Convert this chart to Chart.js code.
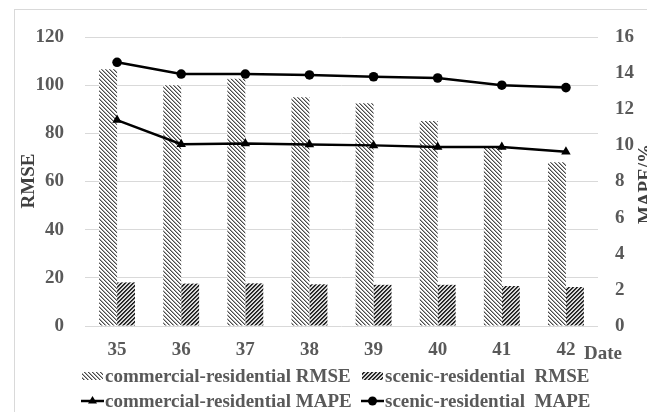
<!DOCTYPE html>
<html>
<head>
<meta charset="utf-8">
<script src="https://cdn.jsdelivr.net/npm/chart.js@4.4.1/dist/chart.umd.min.js"></script>
<style>
  html, body { margin: 0; padding: 0; background: #ffffff; }
  #wrap { position: relative; width: 647px; height: 412px; }
</style>
</head>
<body>
<div id="wrap"><canvas id="c" width="647" height="412"></canvas></div>
<script>
// Forecast day index on the x axis
const dates = ['35', '36', '37', '38', '39', '40', '41', '42'];

// RMSE (left axis)
const commercialRMSE = [106.6, 100.0, 102.7, 95.0, 92.5, 85.1, 74.4, 68.0];
const scenicRMSE     = [18.1, 17.6, 17.7, 17.3, 17.1, 17.1, 16.6, 16.2];

// MAPE in percent (right axis)
const commercialMAPE = [11.4, 10.06, 10.11, 10.05, 10.0, 9.91, 9.91, 9.65];
const scenicMAPE     = [14.6, 13.95, 13.95, 13.9, 13.8, 13.73, 13.33, 13.2];

const rmseTicks = [0, 20, 40, 60, 80, 100, 120];
const mapeTicks = [0, 2, 4, 6, 8, 10, 12, 14, 16];

const seriesNames = [
  'commercial-residential RMSE',
  'scenic-residential  RMSE',
  'commercial-residential MAPE',
  'scenic-residential  MAPE'
];

const FONT = '"Liberation Serif", "Times New Roman", serif';
const TICK_COLOR = '#595959';

// fine diagonal hatch tiles for the bars
function hatch(dir, dark, light, bg) {
  const c = document.createElement('canvas');
  c.width = 4; c.height = 4;
  const g = c.getContext('2d');
  g.fillStyle = bg; g.fillRect(0, 0, 4, 4);
  for (let y = 0; y < 4; y++) {
    const x = dir > 0 ? y : 3 - y;
    g.fillStyle = dark; g.fillRect(x, y, 1, 1);
    g.fillStyle = light; g.fillRect((x + 1) % 4, y, 1, 1);
  }
  return g.createPattern(c, 'repeat');
}
const ctx0 = document.getElementById('c').getContext('2d');
const patLight = hatch(1, '#4a4a4a', '#a8a8a8', '#ffffff');
const patDark  = hatch(-1, '#1e1e1e', '#3a3a3a', '#d8d8d8');

// frame, axis titles and two-row legend
const decor = {
  id: 'decor',
  beforeDraw(chart) {
    const g = chart.ctx;
    g.save();
    g.strokeStyle = '#d9d9d9';
    g.lineWidth = 1;
    g.strokeRect(14.5, 9.5, 700, 500);
    g.restore();
  },
  afterDraw(chart) {
    const g = chart.ctx;
    g.save();
    g.font = 'bold 19px ' + FONT;
    g.fillStyle = '#404040';
    g.textBaseline = 'middle';
    // left title
    g.save();
    g.translate(29, 181);
    g.rotate(-Math.PI / 2);
    g.textAlign = 'center';
    g.fillText('RMSE', 0, 0);
    g.restore();
    // right title
    g.save();
    g.translate(646, 184);
    g.rotate(-Math.PI / 2);
    g.textAlign = 'center';
    g.fillText('MAPE/%', 0, 0);
    g.restore();
    // x title
    g.fillStyle = TICK_COLOR;
    g.textAlign = 'left';
    g.fillText('Date', 584, 354);

    // legend
    const ds = chart.data.datasets;
    const cols = [81, 361];
    const rows = [376, 401];
    g.font = 'bold 19px ' + FONT;
    g.fillStyle = TICK_COLOR;
    // bar swatches
    [0, 1].forEach(i => {
      const x = cols[i], y = rows[0];
      g.fillStyle = ds[i].backgroundColor;
      g.fillRect(x + 1, y - 4, 21, 8);
      g.fillStyle = TICK_COLOR;
      g.fillText(ds[i].label, x + 24, y + 1);
    });
    // line swatches
    [2, 3].forEach((i, k) => {
      const x = cols[k], y = rows[1];
      g.strokeStyle = '#000';
      g.lineWidth = 2.5;
      g.beginPath(); g.moveTo(x, y); g.lineTo(x + 23, y); g.stroke();
      g.fillStyle = '#000';
      g.beginPath();
      if (ds[i].pointStyle === 'triangle') {
        g.moveTo(x + 11.5, y - 5); g.lineTo(x + 16, y + 2.5); g.lineTo(x + 7, y + 2.5);
      } else {
        g.arc(x + 11.5, y, 4.5, 0, Math.PI * 2);
      }
      g.fill();
      g.fillStyle = TICK_COLOR;
      g.fillText(ds[i].label, x + 24, y + 1);
    });
    g.restore();
  }
};

new Chart(ctx0, {
  type: 'bar',
  data: {
    labels: dates,
    datasets: [
      { type: 'bar', label: seriesNames[0], data: commercialRMSE, yAxisID: 'y',
        backgroundColor: patLight, borderWidth: 0, order: 2,
        barPercentage: 1, categoryPercentage: 0.56 },
      { type: 'bar', label: seriesNames[1], data: scenicRMSE, yAxisID: 'y',
        backgroundColor: patDark, borderWidth: 0, order: 2,
        barPercentage: 1, categoryPercentage: 0.56 },
      { type: 'line', label: seriesNames[2], data: commercialMAPE, yAxisID: 'y1',
        borderColor: '#000', backgroundColor: '#000', borderWidth: 2.5,
        pointStyle: 'triangle', pointRadius: 5.5, pointBorderWidth: 0, order: 1 },
      { type: 'line', label: seriesNames[3], data: scenicMAPE, yAxisID: 'y1',
        borderColor: '#000', backgroundColor: '#000', borderWidth: 2.5,
        pointStyle: 'circle', pointRadius: 4.8, pointBorderWidth: 0, order: 1 }
    ]
  },
  options: {
    responsive: false,
    animation: false,
    devicePixelRatio: 1,
    layout: { padding: { top: 37, right: 0, bottom: 0, left: 0 } },
    plugins: { legend: { display: false }, tooltip: { enabled: false } },
    scales: {
      x: {
        grid: { display: false, drawTicks: false },
        border: { display: false },
        ticks: { color: TICK_COLOR, font: { family: FONT, size: 19, weight: 'bold' }, padding: 13, maxRotation: 0 },
        afterFit(s) { s.height = 86; }
      },
      y: {
        position: 'left',
        min: 0, max: 120,
        afterBuildTicks(s) { s.ticks = rmseTicks.map(v => ({ value: v })); },
        grid: { color: '#d9d9d9', lineWidth: 1, drawTicks: false },
        border: { display: false },
        ticks: { color: TICK_COLOR, font: { family: FONT, size: 19, weight: 'bold' }, padding: 21 },
        afterFit(s) { s.width = 85; }
      },
      y1: {
        position: 'right',
        min: 0, max: 16,
        afterBuildTicks(s) { s.ticks = mapeTicks.map(v => ({ value: v })); },
        grid: { display: false, drawTicks: false },
        border: { display: false },
        ticks: { color: TICK_COLOR, font: { family: FONT, size: 19, weight: 'bold' }, padding: 17 },
        afterFit(s) { s.width = 49; }
      }
    }
  },
  plugins: [decor]
});
</script>
</body>
</html>
